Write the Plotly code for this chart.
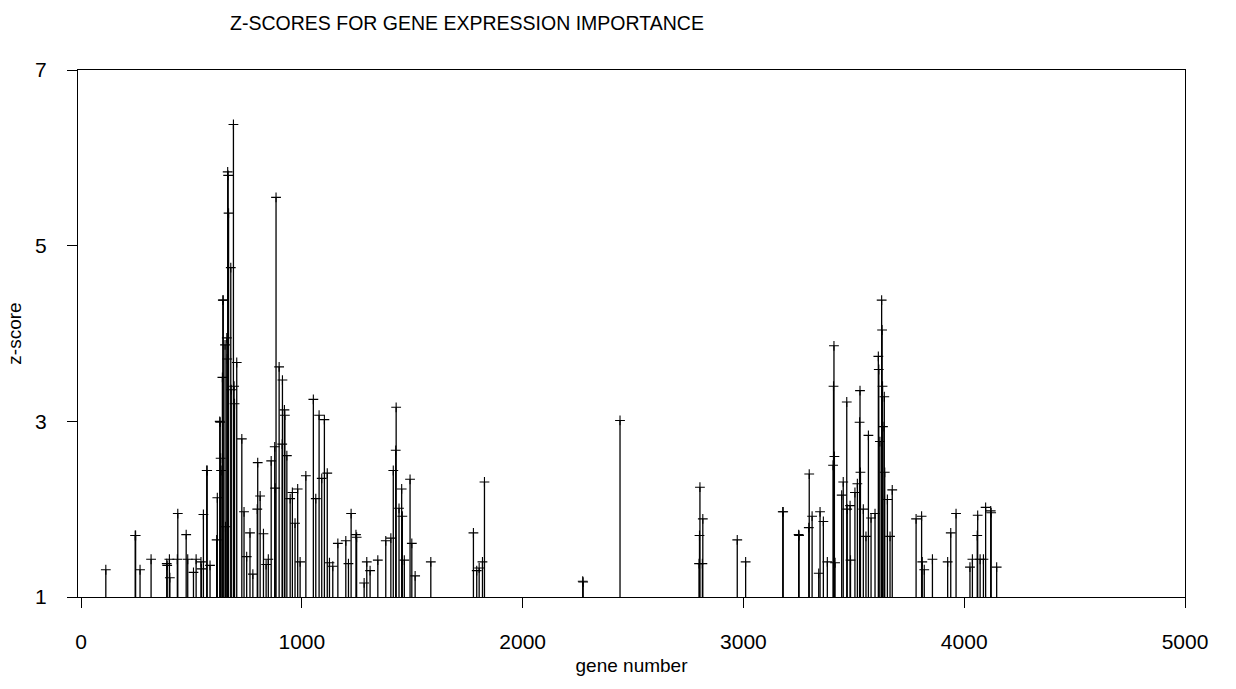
import plotly.graph_objects as go

# gene numbers and their z-scores
genes = [112, 245, 247, 267, 317, 388, 390, 400, 402, 436, 438, 476, 483, 509, 521,
         543, 545, 554, 569, 571, 584, 614, 617, 628, 630, 632, 634, 640, 642, 644,
         652, 654, 660, 662, 664, 666, 668, 678, 680, 690, 693, 695, 705, 728, 738,
         750, 765, 778, 798, 800, 811, 826, 838, 848, 861, 877, 879, 883, 897, 911,
         912, 921, 923, 932, 947, 957, 969, 981, 992, 1018, 1052, 1063, 1078, 1090,
         1102, 1115, 1125, 1140, 1163, 1199, 1211, 1223, 1245, 1248, 1282, 1294, 1309,
         1344, 1380, 1403, 1414, 1425, 1427, 1440, 1452, 1455, 1464, 1490, 1498, 1513,
         1584, 1777, 1792, 1803, 1818, 1827, 2272, 2274, 2441, 2799, 2801, 2803, 2814,
         2816, 2972, 3010, 3178, 3180, 3250, 3252, 3296, 3298, 3311, 3341, 3347, 3362,
         3380, 3406, 3408, 3410, 3412, 3415, 3445, 3452, 3468, 3470, 3483, 3485, 3505,
         3516, 3526, 3528, 3530, 3543, 3555, 3566, 3578, 3596, 3611, 3613, 3618, 3626,
         3628, 3630, 3632, 3638, 3640, 3652, 3664, 3674, 3782, 3807, 3810, 3819, 3856,
         3925, 3939, 3963, 4026, 4037, 4059, 4061, 4072, 4087, 4097, 4120, 4122, 4147]

zscores = [1.31, 1.70, 1.70, 1.31, 1.43, 1.38, 1.36, 1.43, 1.22, 1.43, 1.95, 1.71, 1.43, 1.28, 1.43,
           1.40, 1.32, 1.94, 2.44, 2.44, 1.36, 1.65, 2.13, 3.00, 2.99, 2.58, 2.44, 3.50, 4.38, 4.38,
           3.87, 1.80, 3.95, 3.71, 5.84, 5.80, 5.37, 4.75, 3.36, 6.38, 3.40, 3.20, 3.67, 2.80, 1.97,
           1.46, 1.73, 1.26, 2.00, 2.53, 2.15, 1.72, 1.37, 1.43, 2.55, 2.71, 2.24, 5.55, 3.62, 2.74,
           3.47, 3.13, 3.07, 2.61, 2.12, 2.19, 1.84, 2.23, 1.40, 2.38, 3.25, 2.12, 3.07, 2.35,
           3.02, 2.41, 1.39, 1.35, 1.61, 1.64, 1.38, 1.95, 1.71, 1.68, 1.16, 1.40, 1.30,
           1.42, 1.64, 1.67, 2.44, 2.67, 3.16, 2.01, 2.23, 1.92, 1.42, 2.34, 1.61, 1.24,
           1.40, 1.73, 1.30, 1.33, 1.40, 2.31, 1.18, 1.17, 3.01, 1.38, 1.70, 2.25, 1.38,
           1.89, 1.65, 1.40, 1.97, 1.97, 1.71, 1.70, 1.79, 2.40, 1.92, 1.27, 1.97, 1.86,
           1.40, 2.50, 3.40, 3.86, 2.60, 1.39, 2.16, 2.31, 3.22, 2.00, 2.04, 1.42, 2.19,
           2.29, 2.99, 3.35, 2.42, 2.00, 1.69, 2.84, 1.90, 1.95, 3.74, 3.59, 2.77, 4.38,
           4.04, 3.40, 2.94, 3.28, 2.42, 2.11, 1.69, 2.22, 1.89, 1.92, 1.40, 1.31, 1.43,
           1.40, 1.73, 1.95, 1.34, 1.43, 1.70, 1.93, 1.43, 1.43, 2.02, 1.98, 1.96, 1.34]

baseline = 1
x_ticks = [0, 1000, 2000, 3000, 4000, 5000]
y_ticks = [1, 3, 5, 7]

drop = [z - baseline for z in zscores]

fig = go.Figure()
fig.add_trace(go.Scatter(
    x=genes, y=zscores, mode="markers",
    marker=dict(symbol="cross-thin", size=7, line=dict(width=1.1, color="black"), color="black"),
    error_y=dict(type="data", symmetric=False, array=[0] * len(drop), arrayminus=drop,
                 thickness=1.3, width=0, color="black"),
    showlegend=False, hoverinfo="x+y",
))

font = "Liberation Sans, Arial, sans-serif"
fig.update_layout(
    width=1236, height=689,
    margin=dict(l=78, r=51, t=70, b=92),
    paper_bgcolor="white", plot_bgcolor="white",
    title=dict(text="Z-SCORES FOR GENE EXPRESSION IMPORTANCE", x=467 / 1236, xanchor="center",
               y=1 - 23 / 689, yanchor="middle", font=dict(family=font, size=19.5, color="black")),
    font=dict(family=font, color="black"),
    xaxis=dict(range=[-14, 5000], tickvals=x_ticks, ticktext=[str(t) for t in x_ticks],
               ticks="outside", ticklen=10, tickwidth=1, tickcolor="black",
               showline=True, linecolor="black", linewidth=1, mirror=True,
               showgrid=False, zeroline=False, tickfont=dict(size=21),
               ticklabelstandoff=16,
               title=dict(text="gene number", font=dict(size=19), standoff=6)),
    yaxis=dict(range=[1, 7], tickvals=y_ticks, ticktext=[str(t) for t in y_ticks],
               ticks="outside", ticklen=10, tickwidth=1, tickcolor="black",
               showline=True, linecolor="black", linewidth=1, mirror=True,
               showgrid=False, zeroline=False, tickfont=dict(size=21),
               ticklabelstandoff=16,
               title=dict(text="z-score", font=dict(size=19), standoff=8)),
)

fig.write_html("out.html")
